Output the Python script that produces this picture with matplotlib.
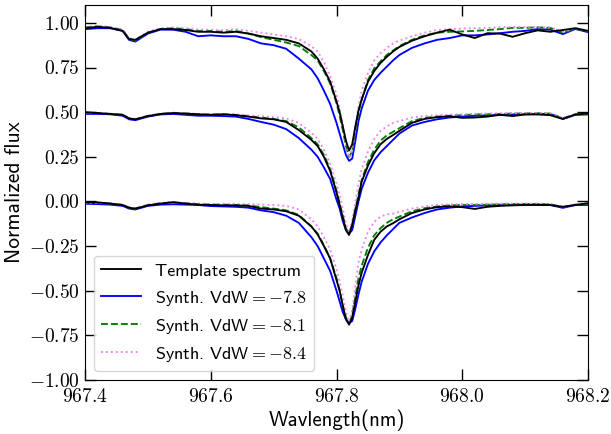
import matplotlib
matplotlib.use("Agg")
import matplotlib.pyplot as plt
from matplotlib.ticker import FuncFormatter

plt.rcParams['mathtext.fontset'] = 'cm'
plt.rcParams['font.family'] = ['cmss10', 'DejaVu Sans']
plt.rcParams['axes.unicode_minus'] = True

wavelength = [967.40, 967.42, 967.44, 967.46, 967.47, 967.48, 967.50, 967.52, 967.54, 967.56,
              967.58, 967.60, 967.62, 967.64, 967.66, 967.68, 967.70, 967.72, 967.74, 967.76,
              967.77, 967.78, 967.79, 967.80, 967.805, 967.81, 967.815, 967.82, 967.825, 967.83,
              967.835, 967.84, 967.85, 967.86, 967.87, 967.88, 967.89, 967.90, 967.92, 967.94,
              967.96, 967.98, 968.00, 968.02, 968.04, 968.06, 968.08, 968.10, 968.12, 968.14,
              968.16, 968.18, 968.20]

# Top set
top_template = [0.97, 0.978, 0.972, 0.955, 0.91, 0.905, 0.945, 0.965, 0.965, 0.96, 0.95, 0.95, 0.945, 0.95,
                0.94, 0.925, 0.915, 0.905, 0.885, 0.84, 0.80, 0.74, 0.67, 0.56, 0.50, 0.42, 0.34, 0.285,
                0.32, 0.42, 0.51, 0.57, 0.67, 0.73, 0.775, 0.81, 0.84, 0.865, 0.90, 0.925, 0.945, 0.962,
                0.935, 0.915, 0.942, 0.94, 0.922, 0.942, 0.958, 0.95, 0.96, 0.97, 0.955]
top_vdw78 = [0.965, 0.97, 0.97, 0.955, 0.905, 0.895, 0.94, 0.962, 0.962, 0.95, 0.925, 0.93, 0.925, 0.925,
             0.91, 0.885, 0.875, 0.855, 0.80, 0.74, 0.69, 0.62, 0.545, 0.44, 0.38, 0.32, 0.26, 0.227,
             0.24, 0.34, 0.45, 0.52, 0.62, 0.68, 0.72, 0.755, 0.79, 0.82, 0.86, 0.885, 0.905, 0.915,
             0.93, 0.93, 0.935, 0.942, 0.95, 0.955, 0.965, 0.962, 0.937, 0.966, 0.948]
top_vdw81 = [0.975, 0.98, 0.975, 0.96, 0.91, 0.90, 0.945, 0.965, 0.97, 0.965, 0.955, 0.955, 0.95, 0.955,
             0.94, 0.92, 0.905, 0.89, 0.87, 0.82, 0.79, 0.73, 0.66, 0.55, 0.48, 0.40, 0.31, 0.25,
             0.28, 0.40, 0.50, 0.57, 0.68, 0.745, 0.785, 0.82, 0.845, 0.87, 0.905, 0.93, 0.945, 0.95,
             0.952, 0.955, 0.96, 0.965, 0.972, 0.972, 0.975, 0.972, 0.945, 0.966, 0.952]
top_vdw84 = [0.975, 0.985, 0.978, 0.962, 0.915, 0.905, 0.95, 0.97, 0.975, 0.97, 0.962, 0.962, 0.958, 0.965,
             0.955, 0.945, 0.935, 0.925, 0.91, 0.87, 0.84, 0.78, 0.70, 0.60, 0.52, 0.43, 0.33, 0.245,
             0.29, 0.42, 0.53, 0.62, 0.72, 0.79, 0.83, 0.86, 0.885, 0.90, 0.925, 0.945, 0.96, 0.965,
             0.968, 0.97, 0.972, 0.975, 0.977, 0.977, 0.976, 0.974, 0.95, 0.97, 0.955]

# Middle set
mid_template = [0.50, 0.495, 0.49, 0.485, 0.465, 0.46, 0.478, 0.49, 0.495, 0.492, 0.488, 0.485, 0.488, 0.483,
                0.475, 0.465, 0.46, 0.445, 0.40, 0.345, 0.31, 0.25, 0.17, 0.05, -0.02, -0.09, -0.16, -0.188,
                -0.13, -0.05, 0.02, 0.11, 0.20, 0.27, 0.32, 0.35, 0.372, 0.395, 0.44, 0.462, 0.472, 0.477,
                0.468, 0.47, 0.475, 0.485, 0.478, 0.487, 0.487, 0.483, 0.462, 0.487, 0.492]
mid_vdw78 = [0.49, 0.49, 0.488, 0.48, 0.46, 0.455, 0.475, 0.487, 0.49, 0.485, 0.48, 0.48, 0.478, 0.475,
             0.462, 0.445, 0.43, 0.405, 0.355, 0.29, 0.25, 0.19, 0.125, 0.01, -0.04, -0.11, -0.16, -0.18,
             -0.16, -0.08, 0.0, 0.07, 0.16, 0.23, 0.275, 0.31, 0.345, 0.38, 0.425, 0.445, 0.46, 0.47,
             0.475, 0.48, 0.482, 0.485, 0.487, 0.488, 0.49, 0.49, 0.462, 0.485, 0.487]
mid_vdw81 = [0.495, 0.495, 0.49, 0.485, 0.465, 0.46, 0.478, 0.49, 0.495, 0.492, 0.488, 0.487, 0.488, 0.485,
             0.478, 0.47, 0.462, 0.45, 0.415, 0.355, 0.32, 0.26, 0.18, 0.06, -0.01, -0.08, -0.15, -0.178,
             -0.13, -0.04, 0.04, 0.12, 0.22, 0.29, 0.34, 0.37, 0.39, 0.41, 0.45, 0.468, 0.475, 0.48,
             0.483, 0.487, 0.488, 0.49, 0.492, 0.493, 0.494, 0.492, 0.466, 0.488, 0.49]
mid_vdw84 = [0.497, 0.497, 0.492, 0.487, 0.467, 0.462, 0.48, 0.492, 0.497, 0.495, 0.49, 0.49, 0.49, 0.488,
             0.482, 0.477, 0.472, 0.465, 0.44, 0.385, 0.35, 0.29, 0.21, 0.10, 0.036, -0.04, -0.12, -0.175,
             -0.11, 0.0, 0.10, 0.18, 0.28, 0.35, 0.395, 0.42, 0.44, 0.45, 0.47, 0.478, 0.483, 0.486,
             0.488, 0.49, 0.492, 0.494, 0.495, 0.495, 0.495, 0.493, 0.468, 0.49, 0.49]

# Bottom set
bot_template = [-0.005, -0.005, -0.012, -0.02, -0.035, -0.04, -0.022, -0.012, -0.004, -0.012, -0.018, -0.02,
                -0.022, -0.022, -0.025, -0.04, -0.045, -0.055, -0.08, -0.14, -0.185, -0.25, -0.32, -0.44,
                -0.50, -0.585, -0.66, -0.69, -0.65, -0.56, -0.47, -0.40, -0.30, -0.215, -0.17, -0.14,
                -0.122, -0.10, -0.065, -0.045, -0.032, -0.028, -0.032, -0.042, -0.03, -0.025, -0.022,
                -0.02, -0.02, -0.02, -0.03, -0.02, -0.01]
bot_vdw78 = [-0.013, -0.015, -0.018, -0.025, -0.04, -0.045, -0.025, -0.018, -0.016, -0.018, -0.02, -0.026,
             -0.028, -0.03, -0.035, -0.05, -0.06, -0.08, -0.12, -0.20, -0.25, -0.32, -0.39, -0.50,
             -0.56, -0.62, -0.66, -0.68, -0.67, -0.60, -0.52, -0.45, -0.35, -0.28, -0.23, -0.19,
             -0.155, -0.12, -0.09, -0.065, -0.045, -0.035, -0.028, -0.025, -0.022, -0.02, -0.02,
             -0.018, -0.018, -0.02, -0.036, -0.02, -0.02]
bot_vdw81 = [-0.008, -0.008, -0.012, -0.02, -0.035, -0.04, -0.02, -0.01, -0.006, -0.01, -0.015, -0.018,
             -0.018, -0.02, -0.022, -0.032, -0.04, -0.05, -0.075, -0.14, -0.18, -0.245, -0.32, -0.43,
             -0.50, -0.58, -0.65, -0.68, -0.64, -0.53, -0.43, -0.36, -0.26, -0.19, -0.15, -0.12,
             -0.10, -0.085, -0.055, -0.038, -0.028, -0.022, -0.02, -0.02, -0.018, -0.016, -0.015,
             -0.014, -0.014, -0.016, -0.032, -0.018, -0.015]
bot_vdw84 = [-0.008, -0.008, -0.01, -0.018, -0.033, -0.038, -0.018, -0.008, -0.005, -0.008, -0.012, -0.014,
             -0.014, -0.015, -0.015, -0.018, -0.02, -0.025, -0.045, -0.10, -0.14, -0.20, -0.27, -0.38,
             -0.45, -0.53, -0.62, -0.675, -0.61, -0.47, -0.34, -0.27, -0.17, -0.115, -0.085, -0.072,
             -0.068, -0.058, -0.04, -0.028, -0.02, -0.017, -0.015, -0.014, -0.013, -0.012, -0.012,
             -0.012, -0.012, -0.014, -0.03, -0.015, -0.012]

x_ticks = [967.4, 967.6, 967.8, 968.0, 968.2]
y_ticks = [-1.0, -0.75, -0.5, -0.25, 0.0, 0.25, 0.5, 0.75, 1.0]

labels = ["Template spectrum", r"Synth. VdW$=-7.8$", r"Synth. VdW$=-8.1$", r"Synth. VdW$=-8.4$"]
colors = ["black", "blue", "green", "violet"]
styles = ["-", "-", "--", ":"]

sets = [
    [top_template, top_vdw78, top_vdw81, top_vdw84],
    [mid_template, mid_vdw78, mid_vdw81, mid_vdw84],
    [bot_template, bot_vdw78, bot_vdw81, bot_vdw84],
]

fig = plt.figure(figsize=(6.11, 4.34), dpi=100)
ax = fig.add_axes([85/611, 54/434, (588-85)/611, (380-5)/434])

lines = {}
for k, group in enumerate(sets):
    for i in [1, 2, 3, 0]:
        ln, = ax.plot(wavelength, group[i], color=colors[i], ls=styles[i], lw=1.35,
                      zorder=3 if i == 0 else 2)
        if k == 0:
            lines[i] = ln

ax.set_xlim(967.4, 968.2)
ax.set_ylim(-1.0, 1.1)
ax.set_xticks(x_ticks)
ax.set_yticks(y_ticks)
ax.xaxis.set_major_formatter(FuncFormatter(lambda v, p: "$%.1f$" % v))
ax.yaxis.set_major_formatter(FuncFormatter(lambda v, p: "$%.2f$" % v))
ax.tick_params(direction='in', length=8, width=1, top=True, right=True, labelsize=14)
ax.tick_params(axis='x', pad=5.5)
ax.tick_params(axis='y', pad=4)
ax.set_xlabel("Wavlength(nm)", fontsize=15, labelpad=3)
ax.set_ylabel("Normalized flux", fontsize=15.5, labelpad=3)

ax.legend([lines[i] for i in range(4)], labels, loc='lower left', fontsize=13,
          handlelength=2.2)

fig.savefig("out.png", dpi=100)
